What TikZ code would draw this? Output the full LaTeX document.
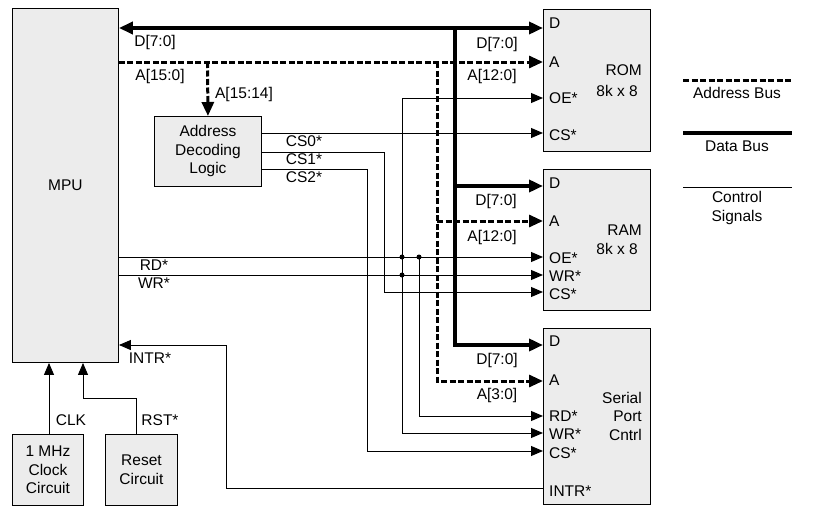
\documentclass[tikz,border=0pt]{standalone}
\usepackage{fontspec}
\setmainfont{Liberation Sans}
\usetikzlibrary{arrows.meta}
\definecolor{boxgray}{RGB}{236,236,236}
\tikzset{
  tipS/.tip={Triangle[length=12pt,width=10pt]},
  tipB/.tip={Triangle[length=14pt,width=12pt]},
  every node/.style={font=\fontsize{15.5}{18.5}\selectfont, inner sep=0pt},
  box/.style={draw, fill=boxgray, line width=0.9pt, inner sep=0pt},
  ctrl/.style={line width=1pt},
  dbus/.style={line width=4pt},
  abus/.style={line width=3pt, dash pattern=on 6pt off 2.5pt},
  port/.style={anchor=west},
  dot/.style={circle, fill=black, minimum size=5pt, inner sep=0pt},
}
\begin{document}
\begin{tikzpicture}[x=1pt,y=-1pt]
\useasboundingbox (0,0) rectangle (822,514);

% boxes
\node[box, minimum width=106pt, minimum height=354pt, anchor=north west] (mpu) at (12,8) {MPU};
\node[box, minimum width=107pt, minimum height=70pt, anchor=north west, align=center] (dec) at (154,116) {Address\\Decoding\\Logic};
\node[box, minimum width=107pt, minimum height=142pt, anchor=north west] (rom) at (543,9) {};
\node[box, minimum width=107pt, minimum height=141pt, anchor=north west] (ram) at (543,169) {};
\node[box, minimum width=107pt, minimum height=176pt, anchor=north west] (ser) at (543,328) {};
\node[box, minimum width=71pt, minimum height=71pt, anchor=north west, align=center] (clk) at (12,434) {1 MHz\\Clock\\Circuit};
\node[box, minimum width=72pt, minimum height=71pt, anchor=north west, align=center] (rst) at (105,434) {Reset\\Circuit};

% junction coordinates
\coordinate (dj) at (455,26);
\coordinate (dram) at (455,186);
\coordinate (aj) at (437,62);
\coordinate (aram) at (437,221);
\coordinate (adec) at (207.5,62);
\coordinate (jr1) at (402,257);
\coordinate (jr2) at (419,257);
\coordinate (jw1) at (402,275);

% data bus
\draw[dbus, tipB-tipB] (mpu.east |- 0,28) -- (rom.west |- 0,28);
\draw[dbus, -tipB] (dj) -- (455,345) -- (ser.west |- 0,345);
\draw[dbus, -tipB] (dram) -- (ram.west |- dram);

% address bus
\draw[abus, -tipB] (mpu.east |- 0,62) -- (rom.west |- 0,62);
\draw[abus, -tipB] (adec) -- (dec.north);
\draw[abus, -tipB] (aj) -- (437,381) -- (ser.west |- 0,381);
\draw[abus, -tipB] (aram) -- (ram.west |- aram);

% control signals
\draw[ctrl, -tipS] (mpu.east |- jr1) -- (ram.west |- jr1);
\draw[ctrl, -tipS] (mpu.east |- jw1) -- (ram.west |- jw1);
\draw[ctrl, -tipS] (jr1) |- (rom.west |- 0,98);
\draw[ctrl, -tipS] (jr1) |- (ser.west |- 0,433);
\draw[ctrl, -tipS] (jr2) |- (ser.west |- 0,416);
\node[dot] (d1) at (jr1) {};
\node[dot] (d2) at (jr2) {};
\node[dot] (d3) at (jw1) {};
\draw[ctrl, -tipS] (dec.east |- 0,133) -- (rom.west |- 0,133);
\draw[ctrl, -tipS] (dec.east |- 0,152) -| (384,292) -- (ram.west |- 0,292);
\draw[ctrl, -tipS] (dec.east |- 0,169) -| (367,451) -- (ser.west |- 0,451);
\draw[ctrl, -tipS] (ser.west |- 0,488) -| (226,345) -- (mpu.east |- 0,345);
\draw[ctrl, -tipS] (clk.north -| 49,0) -- (mpu.south -| 49,0);
\draw[ctrl, -tipS] (rst.north -| 136,0) |- (83,398) -- (mpu.south -| 83,0);

% bus/signal labels
\node (l1) at (155,42) {D[7:0]};
\node (l2) at (160,76) {A[15:0]};
\node (l3) at (244,94) {A[15:14]};
\node (l4) at (497,44) {D[7:0]};
\node (l5) at (492,76) {A[12:0]};
\node (l6) at (304,141) {CS0*};
\node (l7) at (304,159) {CS1*};
\node (l8) at (304,177) {CS2*};
\node (l9) at (154,265) {RD*};
\node (l10) at (154,283) {WR*};
\node (l11) at (496,201) {D[7:0]};
\node (l12) at (492,237) {A[12:0]};
\node (l13) at (497,360) {D[7:0]};
\node (l14) at (497,395) {A[3:0]};
\node (l15) at (150,358) {INTR*};
\node (l16) at (71,420) {CLK};
\node (l17) at (160,420) {RST*};

% ROM
\node[port] (rD) at (549,23) {D};
\node[port] (rA) at (549,62) {A};
\node[port] (rOE) at (549,98) {OE*};
\node[port] (rCS) at (549,135) {CS*};
\node[anchor=east] (rt1) at (642,70) {ROM};
\node[anchor=east] (rt2) at (638,91) {8k x 8};
% RAM
\node[port] (mD) at (549,183) {D};
\node[port] (mA) at (549,221) {A};
\node[port] (mOE) at (549,258) {OE*};
\node[port] (mWR) at (549,276) {WR*};
\node[port] (mCS) at (549,294) {CS*};
\node[anchor=east] (mt1) at (642,230) {RAM};
\node[anchor=east] (mt2) at (638,249) {8k x 8};
% Serial
\node[port] (sD) at (549,341) {D};
\node[port] (sA) at (549,380) {A};
\node[port] (sRD) at (549,416) {RD*};
\node[port] (sWR) at (549,434) {WR*};
\node[port] (sCS) at (549,453) {CS*};
\node[port] (sINT) at (549,491) {INTR*};
\node[anchor=east, align=right] (st) at (642,416) {Serial\\Port\\Cntrl};

% legend
\coordinate (la1) at (683,80); \coordinate (la2) at (792,80);
\coordinate (lb1) at (683,133); \coordinate (lb2) at (792,133);
\coordinate (lc1) at (683,187); \coordinate (lc2) at (792,187);
\draw[abus] (la1) -- (la2);
\draw[line width=3.5pt] (lb1) -- (lb2);
\draw[ctrl] (lc1) -- (lc2);
\node (g1) at (737,93) {Address Bus};
\node (g2) at (737,146) {Data Bus};
\node[align=center] (g3) at (737,208) {Control\\Signals};
\end{tikzpicture}
\end{document}
